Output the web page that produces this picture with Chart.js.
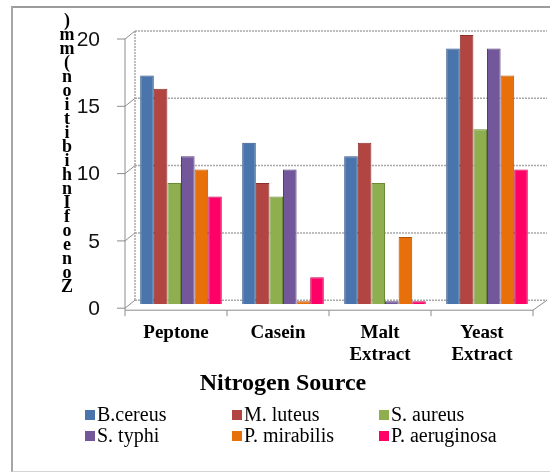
<!DOCTYPE html>
<html lang="en">
<head>
<meta charset="UTF-8">
<title>Nitrogen Source</title>
<script src="https://cdn.jsdelivr.net/npm/chart.js"></script>
<style>
  html, body { margin: 0; padding: 0; background: #fff; }
  #wrap { position: relative; width: 550px; height: 472px; overflow: hidden; }
  #frame { position: absolute; left: 11px; top: 6px; width: 560px; height: 463px;
           border-left: 2px solid #a6a6a6; border-top: 2px solid #9c9c9c; border-bottom: 1px solid #d4d4d4; }
  canvas { position: absolute; left: 0; top: 0; }
</style>
</head>
<body>
<div id="wrap">
  <div id="frame"></div>
  <canvas id="chart" width="550" height="472"></canvas>
</div>
<script>
// zone of inhibition (mm) per nitrogen source
const sources = ['Peptone', 'Casein', ['Malt', 'Extract'], ['Yeast', 'Extract']];
const organisms = ['B.cereus', 'M. luteus', 'S. aureus', 'S. typhi', 'P. mirabilis', 'P. aeruginosa'];
const bCereus = [17, 12, 11, 19];
const mLuteus = [16, 9, 12, 20];
const sAureus = [9, 8, 9, 13];
const sTyphi = [11, 10, 0, 19];
const pMirabilis = [10, 0, 5, 17];
const pAeruginosa = [8, 2, 0, 10];
const yTicks = [0, 5, 10, 15, 20];
const yTitle = 'Zone of Inhibition (mm)';

const colors = ['#4a74ac', '#b24542', '#8eae4f', '#72579a', '#e8700a', '#ff0066'];
const edges = ['#2f5285', '#8a2f2c', '#6a8a35', '#523c78', '#b55407', '#c8004e'];
const series = [bCereus, mLuteus, sAureus, sTyphi, pMirabilis, pAeruginosa];

// fake 3d box: front axis sits down-left of the bars, back wall up-right
const DX = 5, DY = 4;

const frame3d = {
  id: 'frame3d',
  beforeDatasetsDraw(chart) {
    const { ctx, chartArea: a, scales: { x, y } } = chart;
    ctx.save();
    // back wall grid
    ctx.strokeStyle = '#a8a8a8';
    ctx.lineWidth = 1.5;
    ctx.setLineDash([2, 1]);
    y.ticks.forEach(t => {
      const py = y.getPixelForValue(t.value);
      ctx.beginPath();
      ctx.moveTo(a.left + DX, py - DY);
      ctx.lineTo(a.right + 9, py - DY);
      ctx.stroke();
    });
    ctx.beginPath();
    ctx.moveTo(a.left + DX, y.getPixelForValue(20) - DY);
    ctx.lineTo(a.left + DX, y.getPixelForValue(0) - DY);
    ctx.stroke();
    ctx.setLineDash([]);
    // side wall diagonals + front ticks
    ctx.strokeStyle = '#8c8c8c';
    ctx.lineWidth = 1;
    y.ticks.forEach(t => {
      const py = y.getPixelForValue(t.value);
      ctx.beginPath();
      ctx.moveTo(a.left - DX, py + DY);
      ctx.lineTo(a.left + DX, py - DY);
      ctx.moveTo(a.left - DX - 8, py + DY);
      ctx.lineTo(a.left - DX, py + DY);
      ctx.stroke();
    });
    const y0 = y.getPixelForValue(0) + DY + 2;
    ctx.beginPath();
    ctx.moveTo(a.left - DX, y.getPixelForValue(20) + DY);
    ctx.lineTo(a.left - DX, y0);
    ctx.lineTo(a.right - DX, y0);
    ctx.lineTo(a.right + 9, y.getPixelForValue(0) - DY);
    for (let i = 0; i <= sources.length; i++) {
      const px = x.getPixelForValue(i - 0.5) - DX;
      ctx.moveTo(px, y0);
      ctx.lineTo(px, y0 + 6);
    }
    ctx.stroke();
    ctx.restore();
  },
  afterDraw(chart) {
    const { ctx } = chart;
    ctx.save();
    // stacked y title, read bottom to top
    const chars = yTitle.replace(/\s/g, '').split('');
    ctx.font = 'bold 18px "Liberation Serif"';
    ctx.fillStyle = '#000';
    ctx.textAlign = 'center';
    ctx.textBaseline = 'middle';
    const bottom = 287, step = 14;
    chars.forEach((c, i) => ctx.fillText(c, 67, bottom - i * step));

    // legend, 3 columns x 2 rows
    const colX = [85, 232, 379], rowY = [415, 436];
    ctx.font = '20px "Liberation Serif"';
    ctx.textAlign = 'left';
    organisms.forEach((name, i) => {
      const cx = colX[i % 3], cy = rowY[Math.floor(i / 3)];
      ctx.fillStyle = colors[i];
      ctx.fillRect(cx, cy - 5, 10, 10);
      ctx.fillStyle = '#000';
      ctx.fillText(name, cx + 12, cy + 1);
    });
    ctx.restore();
  }
};

new Chart(document.getElementById('chart'), {
  type: 'bar',
  data: {
    labels: sources,
    datasets: organisms.map((name, i) => ({
      label: name,
      data: series[i],
      backgroundColor: colors[i],
      borderColor: edges[i],
      borderWidth: 1,
      borderSkipped: 'bottom',
      minBarLength: 3
    }))
  },
  options: {
    responsive: false,
    animation: false,
    events: [],
    layout: { padding: { left: 28, right: 12, top: 35, bottom: 70 } },
    datasets: { bar: { categoryPercentage: 0.8, barPercentage: 1 } },
    scales: {
      x: {
        grid: { display: false, drawTicks: false },
        border: { display: false },
        ticks: {
          padding: 17,
          labelOffset: -5,
          color: '#000',
          font: { family: '"Liberation Serif"', size: 19, weight: 'bold', lineHeight: 1.2 }
        },
        afterFit: s => { s.height = 61; }
      },
      y: {
        min: 0,
        max: 20,
        grid: { display: false, drawTicks: false },
        border: { display: false },
        afterBuildTicks: s => { s.ticks = yTicks.map(v => ({ value: v })); },
        ticks: {
          padding: 30,
          labelOffset: 5,
          color: '#111',
          font: { family: '"Liberation Sans"', size: 21 }
        },
        // big label gap shouldn't push the plot down
        afterFit: s => { s.width = 102; s.paddingTop = 0; s.paddingBottom = 0; }
      }
    },
    plugins: {
      legend: { display: false },
      tooltip: { enabled: false },
      title: {
        display: true,
        position: 'bottom',
        text: 'Nitrogen Source',
        color: '#000',
        padding: { top: 4, bottom: 4 },
        font: { family: '"Liberation Serif"', size: 24, weight: 'bold', lineHeight: 1.2 }
      }
    }
  },
  plugins: [frame3d]
});
</script>
</body>
</html>
